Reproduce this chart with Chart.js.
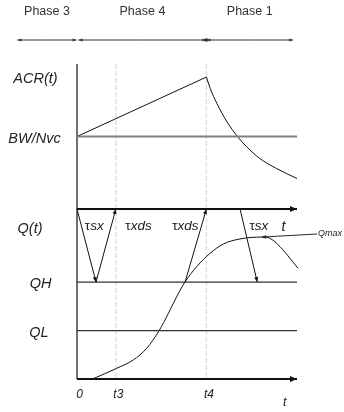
<!DOCTYPE html>
<html>
<head>
<meta charset="utf-8">
<script src="https://cdn.jsdelivr.net/npm/chart.js@4"></script>
<style>
  html, body { margin: 0; padding: 0; background: #fff; }
  #wrap { width: 344px; height: 412px; position: relative; }
</style>
</head>
<body>
<div id="wrap"><canvas id="diagram"></canvas></div>
<script>
// time axis runs 0..17, t3 = 3, t4 = 10
var tEnd = 17;
var tMarks = [0, 3, 10];
var tMarkLabels = ['0', 't3', 't4'];

var phaseNames = ['Phase 3', 'Phase 4', 'Phase 1'];
var phaseBounds = [-4.6, 0, 10, 16.7];

// upper panel: ACR(t) against BW/Nvc
var bwNvc = 5.0;
var acrRiseT = [0, 10];
var acrRise = [5.0, 9.1];
var acrFallT = [10, 10.3, 10.8, 11.6, 12.4, 13.1, 14.1, 15.4, 17];
var acrFall = [9.1, 8.3, 7.3, 6.0, 5.0, 4.3, 3.5, 2.8, 2.1];

// lower panel: Q(t) with thresholds QH / QL, top line at 10
var qTop = 10;
var qH = 5.7;
var qL = 2.85;
var qT = [1.2, 3.07, 4.35, 5.39, 6.34, 7.06, 7.7, 8.35, 9.25, 10.28, 11.31, 12.6, 14.3, 14.9, 15.69, 16.46, 17.08];
var q = [0, 0.63, 1.12, 1.81, 2.84, 3.86, 4.84, 5.71, 6.61, 7.39, 7.94, 8.24, 8.35, 8.28, 7.78, 7.1, 6.51];
var qMaxIndex = 12;

// delay arrows between the Q(t) time line and QH
var tauNames = ['sx', 'xds', 'xds', 'sx'];
var tauLabelT = [1.33, 4.75, 8.38, 14.06];
var tauLabelQ = 8.96;
var tauFromT = [0, 1.47, 8.35, 12.6];
var tauFromQ = [10, 5.7, 5.7, 10];
var tauToT = [1.47, 3.0, 10, 13.93];
var tauToQ = [5.7, 10, 10, 5.7];

var FONT = '"Liberation Sans", Arial, sans-serif';

var pts = (xs, ys) => xs.map((x, i) => ({ x: x, y: ys[i] }));

var arrowHead = (ctx, x1, y1, x2, y2, len, half) => {
  var a = Math.atan2(y2 - y1, x2 - x1);
  var c = Math.cos(a), s = Math.sin(a);
  ctx.beginPath();
  ctx.moveTo(x2, y2);
  ctx.lineTo(x2 - len * c + half * s, y2 - len * s - half * c);
  ctx.lineTo(x2 - len * c - half * s, y2 - len * s + half * c);
  ctx.closePath();
  ctx.fill();
};

var arrow = (ctx, x1, y1, x2, y2, len, half) => {
  ctx.beginPath();
  ctx.moveTo(x1, y1);
  ctx.lineTo(x2, y2);
  ctx.stroke();
  arrowHead(ctx, x1, y1, x2, y2, len, half);
};

var text = (ctx, str, x, y, font, color, align) => {
  ctx.font = font;
  ctx.fillStyle = color;
  ctx.textAlign = align || 'center';
  ctx.textBaseline = 'middle';
  ctx.fillText(str, x, y);
};

var diagramPlugin = {
  id: 'diagram',
  beforeDatasetsDraw(chart) {
    var ctx = chart.ctx;
    var area = chart.chartArea;
    var sx = chart.scales.x, ya = chart.scales.yAcr, yq = chart.scales.yQ;
    ctx.save();

    // t3 / t4 guides
    ctx.strokeStyle = '#e2e2e2';
    ctx.lineWidth = 1.5;
    ctx.setLineDash([5, 2]);
    for (const t of tMarks.slice(1)) {
      var gx = sx.getPixelForValue(t);
      ctx.beginPath();
      ctx.moveTo(gx, area.top);
      ctx.lineTo(gx, area.bottom);
      ctx.stroke();
    }
    ctx.setLineDash([]);

    // axes
    var x0 = sx.getPixelForValue(0);
    var xEnd = sx.getPixelForValue(tEnd);
    ctx.strokeStyle = '#111';
    ctx.fillStyle = '#111';
    ctx.lineWidth = 1.2;
    ctx.beginPath();
    ctx.moveTo(x0, area.top);
    ctx.lineTo(x0, area.bottom);
    ctx.stroke();
    ctx.lineWidth = 1.8;
    for (const yy of [ya.getPixelForValue(0), yq.getPixelForValue(0)]) {
      arrow(ctx, x0, yy, xEnd, yy, 7, 3);
    }
    ctx.restore();
  },
  afterDatasetsDraw(chart) {
    var ctx = chart.ctx;
    var sx = chart.scales.x, ya = chart.scales.yAcr, yq = chart.scales.yQ;
    ctx.save();

    // delay arrows
    ctx.strokeStyle = '#111';
    ctx.fillStyle = '#111';
    ctx.lineWidth = 1;
    tauFromT.forEach((t, i) => {
      arrow(ctx,
        sx.getPixelForValue(t), yq.getPixelForValue(tauFromQ[i]),
        sx.getPixelForValue(tauToT[i]), yq.getPixelForValue(tauToQ[i]), 5, 2);
    });

    // delay labels: upright tau, italic subscript letters
    var ly = yq.getPixelForValue(tauLabelQ);
    tauNames.forEach((name, i) => {
      ctx.font = '13.5px ' + FONT;
      var w1 = ctx.measureText('\u03c4').width;
      ctx.font = 'italic 13.5px ' + FONT;
      var w2 = ctx.measureText(name).width;
      var left = sx.getPixelForValue(tauLabelT[i]) - (w1 + w2) / 2;
      text(ctx, '\u03c4', left, ly, '13.5px ' + FONT, '#222', 'left');
      text(ctx, name, left + w1, ly, 'italic 13.5px ' + FONT, '#222', 'left');
    });
    text(ctx, 't', sx.getPixelForValue(15.96), ly, 'italic 14px ' + FONT, '#222');

    // Qmax pointer
    var mx = sx.getPixelForValue(qT[qMaxIndex]);
    var my = yq.getPixelForValue(q[qMaxIndex]);
    var lx = sx.getPixelForValue(18.55);
    var lyq = yq.getPixelForValue(8.53);
    ctx.lineWidth = 0.9;
    arrow(ctx, lx, lyq, mx, my, 4, 1.8);
    text(ctx, 'Qmax', lx + 1, lyq, 'italic 9px ' + FONT, '#222', 'left');

    // side labels
    var side = [
      ['ACR(t)', ya, acrRise[1], 35.5],
      ['BW/Nvc', ya, bwNvc, 34.5],
      ['Q(t)', yq, tauLabelQ, 30],
      ['QH', yq, qH, 40.5],
      ['QL', yq, qL, 39]
    ];
    for (const [str, scale, v, cx] of side) {
      text(ctx, str, cx, scale.getPixelForValue(v) + 2, 'italic 14.5px ' + FONT, '#222');
    }

    // time marks under the bottom axis
    tMarks.forEach((t, i) => {
      text(ctx, tMarkLabels[i], sx.getPixelForValue(t) + 2.5, 395, 'italic 12px ' + FONT, '#222');
    });
    text(ctx, 't', sx.getPixelForValue(16.05), 403, 'italic 12.5px ' + FONT, '#222');

    // phases along the top
    ctx.strokeStyle = '#333';
    ctx.fillStyle = '#333';
    ctx.lineWidth = 1;
    for (let i = 0; i < phaseNames.length; i++) {
      var a = sx.getPixelForValue(phaseBounds[i]) + (i === 1 ? 1.5 : 0);
      var b = sx.getPixelForValue(phaseBounds[i + 1]) - (i === 0 ? 0.5 : 0);
      arrow(ctx, (a + b) / 2, 40, a, 40, 4, 1.6);
      arrow(ctx, (a + b) / 2, 40, b, 40, 4, 1.6);
      text(ctx, phaseNames[i], (a + b) / 2, 11.5, '12.5px ' + FONT, '#333');
    }
    var jx = sx.getPixelForValue(phaseBounds[2]);
    ctx.fillRect(jx - 1.5, 38.5, 3, 3);
    ctx.restore();
  }
};

var lineStyle = {
  borderColor: '#111',
  borderWidth: 1,
  pointRadius: 0,
  fill: false,
  clip: false
};

new Chart(document.getElementById('diagram'), {
  type: 'line',
  data: {
    datasets: [
      Object.assign({ data: pts([0, tEnd], [bwNvc, bwNvc]), yAxisID: 'yAcr' }, lineStyle, { borderColor: '#808080', borderWidth: 2 }),
      Object.assign({ data: pts(acrRiseT, acrRise), yAxisID: 'yAcr', tension: 0 }, lineStyle),
      Object.assign({ data: pts(acrFallT, acrFall), yAxisID: 'yAcr', cubicInterpolationMode: 'monotone' }, lineStyle),
      Object.assign({ data: pts([0, tEnd], [qH, qH]), yAxisID: 'yQ' }, lineStyle, { borderColor: '#333', borderWidth: 1.3 }),
      Object.assign({ data: pts([0, tEnd], [qL, qL]), yAxisID: 'yQ' }, lineStyle, { borderColor: '#333', borderWidth: 1.3 }),
      Object.assign({ data: pts(qT, q), yAxisID: 'yQ', cubicInterpolationMode: 'monotone' }, lineStyle)
    ]
  },
  options: {
    responsive: true,
    maintainAspectRatio: false,
    animation: false,
    events: [],
    layout: { padding: { left: 77, right: 47, top: 64, bottom: 33 } },
    plugins: { legend: { display: false }, tooltip: { enabled: false } },
    scales: {
      x: { type: 'linear', min: 0, max: tEnd, display: false },
      yQ: { type: 'linear', position: 'left', stack: 'panels', stackWeight: 170, min: 0, max: qTop, display: false },
      yAcr: { type: 'linear', position: 'left', stack: 'panels', stackWeight: 145, min: 0, max: 10, display: false }
    }
  },
  plugins: [diagramPlugin]
});
</script>
</body>
</html>
